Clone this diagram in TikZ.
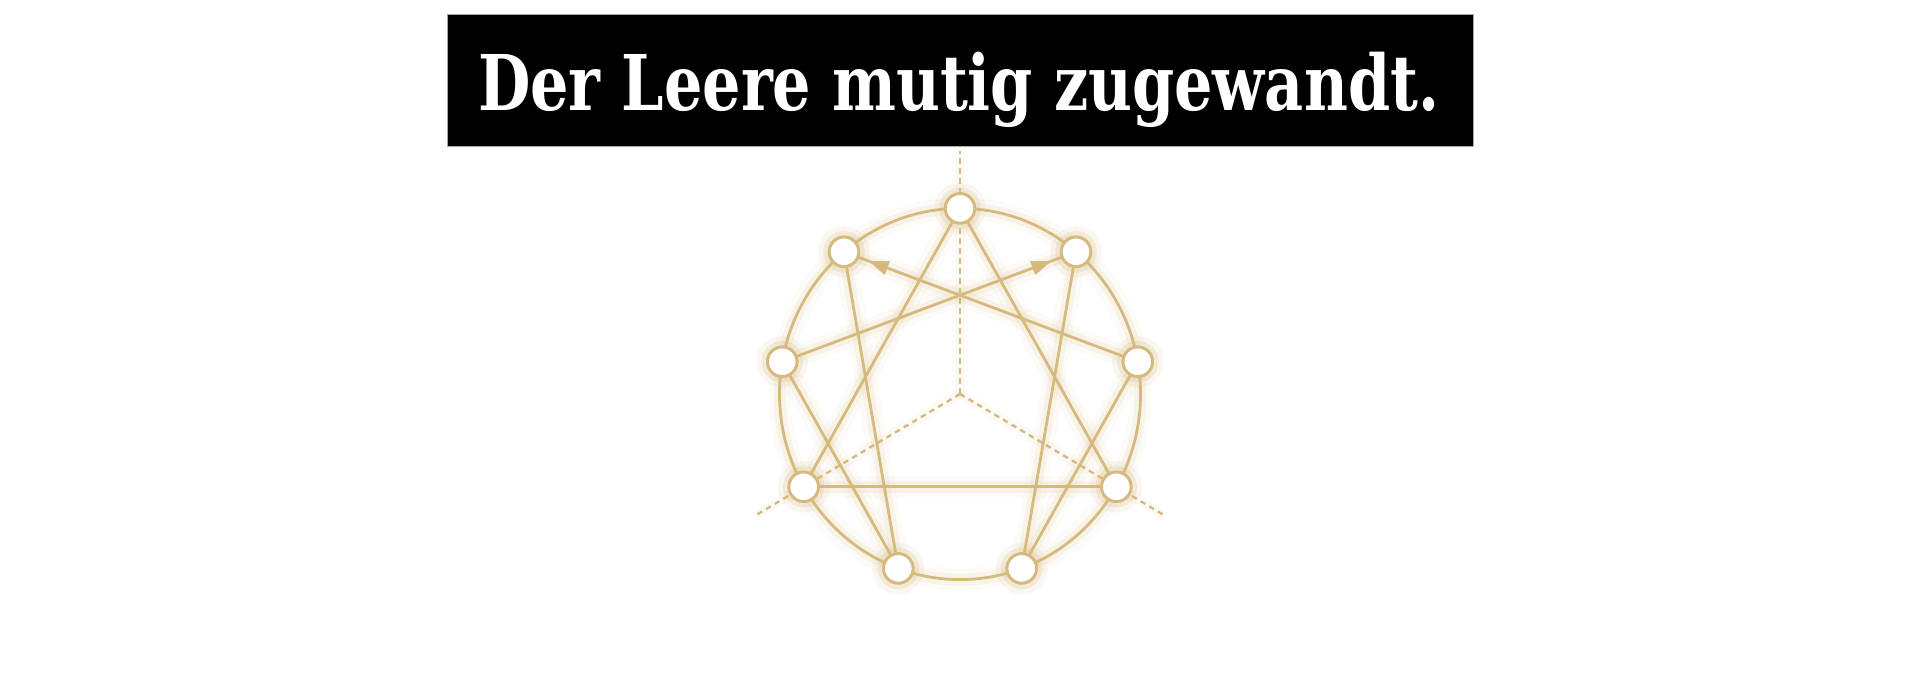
\documentclass[tikz,border=0pt]{standalone}
\usepackage{fontspec}
\setmainfont{DejaVu Serif}
\usepackage{tikz}
\usetikzlibrary{arrows.meta,calc,decorations.markings,positioning}

\definecolor{gold}{RGB}{213,185,125}

\tikzset{
	ennea/.style={draw=gold, line width=0.28mm,
		preaction={draw=gold, line width=2.2mm, opacity=0.06},
		preaction={draw=gold, line width=1.2mm, opacity=0.12}},
	pt/.style={circle, ennea, fill=white, minimum size=2.95mm, inner sep=0pt},
	axis/.style={draw=gold, line width=0.24mm, dash pattern=on 0.55mm off 0.45mm,
		preaction={draw=gold, line width=1mm, opacity=0.07}},
	arr/.style={postaction={decorate}, decoration={markings,
		mark=at position -1mm with {\arrow{Triangle[length=2mm,width=1.4mm]}}}},
	box/.style={fill=black, draw=gray!70, line width=0.1mm, minimum width=102.6mm, minimum height=13.2mm, inner sep=0pt},
	title/.style={text=white, inner sep=0pt, anchor=base}
}

\begin{document}
\begin{tikzpicture}[x=0.1mm, y=-0.1mm]
	\useasboundingbox (0,0) rectangle (1920,682);
	\node[box] (b) at (960,80.7) {};
	\node[title] (h) at (958.7,111) {\resizebox{96.1mm}{5.84mm}{\bfseries Der Leere mutig zugewandt.}};
	
	\coordinate (c) at (960,394);
	\foreach \k in {1,...,9}
		\coordinate (p\k) at ({960+180.5*sin(40*\k)},{394-185.6*cos(40*\k)});
	
	% circle and dashed axes
	\draw[ennea] (c) ellipse [x radius=18.05mm, y radius=18.56mm];
	\coordinate (t) at ($(c)!1.31!(p9)$);
	\coordinate (l) at ($(c)!1.3!(p6)$);
	\coordinate (r) at ($(c)!1.3!(p3)$);
	\draw[axis] (c) -- (t);
	\draw[axis] (c) -- (l);
	\draw[axis] (c) -- (r);
	
	\foreach \k in {1,...,9}
		\node[pt] (\k) at (p\k) {};
	
	% triangle
	\path[ennea] (9) -- (3);
	\path[ennea] (3) -- (6);
	\path[ennea] (6) -- (9);
	% hexad
	\path[ennea] (1) -- (4);
	\path[ennea] (4) -- (2);
	\path[ennea, arr, fill=gold] (2) -- (8);
	\path[ennea] (8) -- (5);
	\path[ennea] (5) -- (7);
	\path[ennea, arr, fill=gold] (7) -- (1);
	
	\foreach \k in {1,...,9}
		\node[pt] at (\k) {};
\end{tikzpicture}
\end{document}
